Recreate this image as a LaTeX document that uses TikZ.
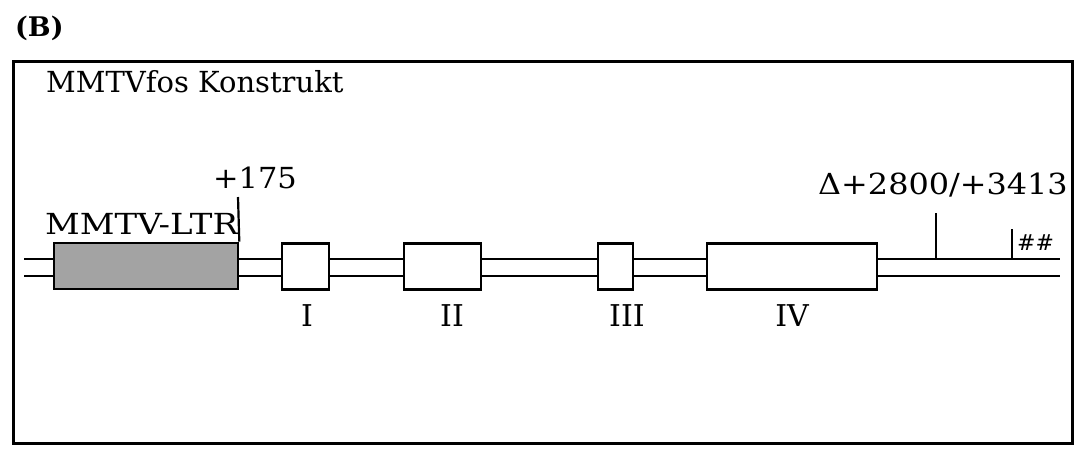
\documentclass[tikz,border=0pt]{standalone}
\usepackage{graphicx}
\usepackage{fontspec}
\setmainfont{DejaVu Serif}
\begin{document}
\begin{tikzpicture}[x=1pt,y=-1pt,
  frame/.style={draw=black,line width=2.6pt},
  dna/.style={draw=black,line width=2.2pt},
  exon/.style={draw=black,line width=2.6pt,fill=white,inner sep=0pt,minimum height=46pt},
  ltrbox/.style={draw=black,line width=2.6pt,fill=black!36,inner sep=0pt,minimum height=46pt},
  tick/.style={draw=black,line width=2.2pt},
  lab/.style={font=\fontsize{29}{30}\selectfont,inner sep=0pt},
  num/.style={font=\fontsize{30}{30}\selectfont,inner sep=0pt,anchor=base}]
\useasboundingbox (0,0) rectangle (1081,451);
\node[font=\fontsize{27}{28}\selectfont\bfseries,inner sep=0pt,anchor=base west] (B) at (15,36) {(B)};
\node[frame,inner sep=0pt,minimum width=1059pt,minimum height=382pt,anchor=north west] (box) at (12,60) {};
\node[lab,anchor=base west] (title) at (46,92) {MMTVfos Konstrukt};
% DNA strands
\coordinate (l1) at (24,259); \coordinate (r1) at (1060,259);
\coordinate (l2) at (24,276); \coordinate (r2) at (1060,276);
\draw[dna] (l1) -- (r1);
\draw[dna] (l2) -- (r2);
% boxes
\node[ltrbox,minimum width=184pt] (ltr) at (146,266) {};
\node[exon,minimum width=47pt] (e1) at (305.5,266.5) {};
\node[exon,minimum width=77pt] (e2) at (442.5,266.5) {};
\node[exon,minimum width=35pt] (e3) at (615.5,266.5) {};
\node[exon,minimum width=170pt] (e4) at (792,266.5) {};
% labels
\node[lab,anchor=base west] (ltrlab) at (45,234) {\scalebox{1.17}[1]{MMTV-LTR}};
\coordinate (t175) at (238,197);
\draw[tick] (ltr.north east) -- (t175);
\node[lab,anchor=base west] (p175) at (213,188) {\scalebox{1.05}[1]{+175}};
\coordinate (dtop) at (936,213); \coordinate (dbot) at (936,259);
\draw[tick] (dbot) -- (dtop);
\node[lab,anchor=base east] (delta) at (1068,194) {\scalebox{1.1}[1]{Δ+2800/+3413}};
\coordinate (htop) at (1012,229); \coordinate (hbot) at (1012,259);
\draw[tick] (hbot) -- (htop);
\node[font=\fontsize{22}{22}\selectfont,inner sep=0pt,anchor=base west] (hash) at (1017,250) {\#\#};
\node[num] (n1) at (307,326) {I};
\node[num] (n2) at (452,326) {II};
\node[num] (n3) at (627,326) {III};
\node[num] (n4) at (792,326) {IV};
\end{tikzpicture}
\end{document}
